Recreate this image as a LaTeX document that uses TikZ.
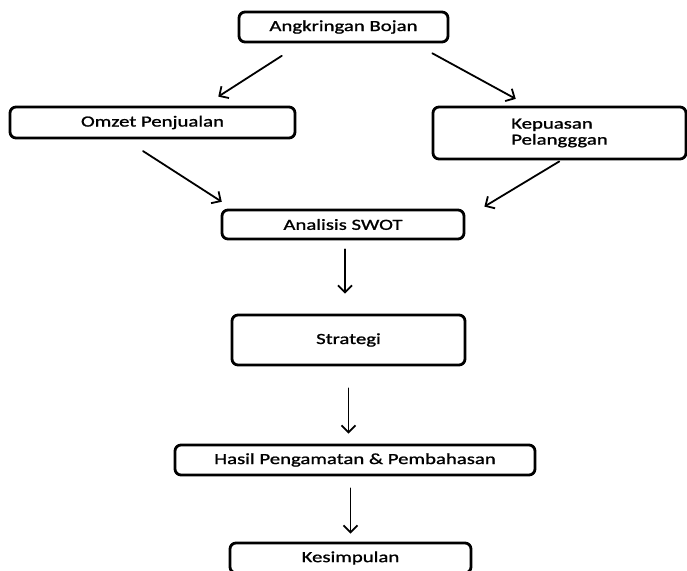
\documentclass[tikz,border=0pt]{standalone}
\usepackage{fontspec}
\setmainfont{Carlito}[FakeStretch=1.34, FakeBold=1.2]
\usetikzlibrary{arrows.meta,calc}
\tikzset{
	kotak/.style={draw, line width=1.4pt, rounded corners=3pt, inner sep=0pt, align=center},
	panah/.style={->, line width=0.9pt}
}
\begin{document}
\begin{tikzpicture}[x=0.5pt, y=-0.5pt, font=\fontsize{7.75}{8}\selectfont, line join=round, line cap=round, >={Straight Barb[length=3.5pt,width=7pt]}]
	% Batas gambar
	\useasboundingbox (0,0) rectangle (687,571);
	\clip (0,0) rectangle (687,571);
	% Kotak-kotak
	\node[kotak, minimum width=104.5pt, minimum height=15pt] (bojan) at (343.5,27) {Angkringan Bojan};
	\node[kotak, minimum width=142.5pt, minimum height=15.5pt] (omzet) at (152.5,122.5) {Omzet Penjualan};
	\node[kotak, minimum width=126.5pt, minimum height=26pt, align=left] (puas) at (559.5,133) {Kepuasan\\Pelangggan};
	\node[kotak, minimum width=121pt, minimum height=14.5pt] (swot) at (343,224.5) {Analisis SWOT};
	\node[kotak, minimum width=116.5pt, minimum height=25pt] (strategi) at (348.5,340) {Strategi};
	\node[kotak, minimum width=180pt, minimum height=15pt] (hasil) at (355,460) {Hasil Pengamatan \& Pembahasan};
	\node[kotak, minimum width=120.5pt, minimum height=15pt] (simpul) at (350.5,558) {Kesimpulan};
	% Panah dari Angkringan Bojan
	\draw[panah, shorten <=11.5pt, shorten >=8.3pt] ($(bojan.south west)!.30!(bojan.south east)$) -- ($(omzet.north west)!.68!(omzet.north east)$);
	\draw[panah, shorten <=10.3pt, shorten >=7pt] ($(bojan.south west)!.834!(bojan.south east)$) -- ($(puas.north west)!.377!(puas.north east)$);
	% Panah ke Analisis SWOT
	\draw[panah, shorten <=10.8pt, shorten >=6.3pt] ($(omzet.south west)!.404!(omzet.south east)$) -- ($(swot.north west)!.048!(swot.north east)$);
	\draw[panah, shorten <=1pt] ($(puas.south west)!.506!(puas.south east)$) -- ($(swot.north east)+(19,-2)$);
	% Panah lurus ke bawah
	\draw[panah, shorten <=4.5pt, shorten >=10pt] ([xshift=1pt]swot.south) -- ([xshift=1pt]swot.south |- strategi.north);
	\draw[panah, shorten <=11pt, shorten >=5pt] (strategi.south) -- (strategi.south |- hasil.north);
	\draw[panah, shorten <=6pt, shorten >=4pt] (simpul.north |- hasil.south) -- (simpul.north);
\end{tikzpicture}
\end{document}
